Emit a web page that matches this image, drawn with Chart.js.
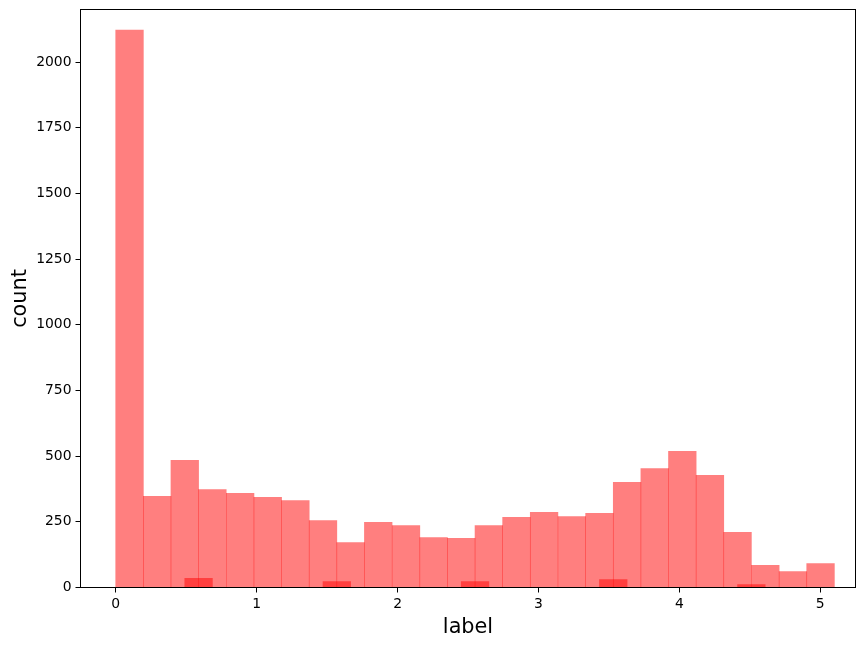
<!DOCTYPE html>
<html lang="en">
<head>
    <meta charset="UTF-8">
    <script src="https://cdn.jsdelivr.net/npm/chart.js"></script>
    <title>label histogram</title>
    <style>
        body {
            margin: 0;
            background: white;
        }
    </style>
</head>
<body>
    <canvas id="histChart" width="865" height="646"></canvas>
    <script>
        // Histogram data
        var mainBinCenters = [0.098, 0.294, 0.490, 0.686, 0.883, 1.079, 1.275, 1.471, 1.667, 1.863,
            2.060, 2.256, 2.452, 2.648, 2.844, 3.040, 3.237, 3.433, 3.629, 3.825,
            4.021, 4.217, 4.413, 4.610, 4.806, 5.002];
        var mainCounts = [2122, 347, 484, 373, 358, 343, 331, 255, 171, 248,
            236, 190, 187, 236, 267, 286, 270, 282, 400, 453,
            518, 427, 210, 84, 61, 91];

        var smallBinCenters = [0.588, 0.785, 0.981, 1.177, 1.373, 1.569, 1.765, 1.961, 2.158, 2.354,
            2.550, 2.746, 2.942, 3.138, 3.334, 3.531, 3.727, 3.923, 4.119, 4.315, 4.511];
        var smallCounts = [35, 0, 0, 0, 0, 23, 0, 0, 0, 0,
            23, 0, 0, 0, 0, 30, 0, 0, 0, 0, 11];

        var xTicks = [0, 1, 2, 3, 4, 5];
        var yTicks = [0, 250, 500, 750, 1000, 1250, 1500, 1750, 2000];

        function toPoints(xs, ys) {
            return xs.map(function (x, i) { return { x: x, y: ys[i] }; });
        }

        // box round the plot like matplotlib spines
        var framePlugin = {
            id: 'frame',
            afterDraw: function (chart) {
                var a = chart.chartArea;
                var ctx = chart.ctx;
                ctx.save();
                ctx.strokeStyle = '#000';
                ctx.lineWidth = 1;
                ctx.strokeRect(a.left, a.top, a.right - a.left, a.bottom - a.top);
                ctx.restore();
            }
        };

        var tickFont = { family: 'DejaVu Sans', size: 13.9 };
        var titleFont = { family: 'DejaVu Sans', size: 20.8 };

        var ctx = document.getElementById('histChart').getContext('2d');
        var histChart = new Chart(ctx, {
            type: 'bar',
            data: {
                datasets: [{
                    label: 'main',
                    data: toPoints(mainBinCenters, mainCounts),
                    backgroundColor: 'rgba(255, 0, 0, 0.5)',
                    borderWidth: 0,
                    barPercentage: 1,
                    categoryPercentage: 1,
                    grouped: false,
                    xAxisID: 'x'
                }, {
                    label: 'small',
                    data: toPoints(smallBinCenters, smallCounts),
                    backgroundColor: 'rgba(255, 0, 0, 0.5)',
                    borderWidth: 0,
                    barPercentage: 1,
                    categoryPercentage: 1,
                    grouped: false,
                    xAxisID: 'x2'
                }]
            },
            options: {
                responsive: false,
                animation: false,
                layout: {
                    padding: { top: 9.5, right: 9.5, left: 0, bottom: 0 }
                },
                plugins: {
                    legend: { display: false },
                    tooltip: { enabled: false }
                },
                scales: {
                    x: {
                        type: 'linear',
                        min: -0.25,
                        max: 5.25,
                        offset: false,
                        border: { display: false },
                        grid: {
                            offset: false,
                            drawOnChartArea: false,
                            drawTicks: true,
                            tickLength: 5,
                            color: '#000'
                        },
                        ticks: {
                            color: '#000',
                            font: tickFont,
                            padding: 4,
                            maxRotation: 0,
                            autoSkip: false,
                            callback: function (v) { return String(v); }
                        },
                        afterBuildTicks: function (axis) {
                            axis.ticks = xTicks.map(function (v) { return { value: v }; });
                        },
                        title: {
                            display: true,
                            text: 'label',
                            color: '#000',
                            font: titleFont,
                            padding: { top: 0, bottom: 6 }
                        },
                        afterFit: function (axis) {
                            axis.height = 58.5;
                            axis.paddingLeft = 0;
                            axis.paddingRight = 0;
                        }
                    },
                    x2: {
                        type: 'linear',
                        min: -0.25,
                        max: 5.25,
                        offset: false,
                        display: false
                    },
                    y: {
                        min: 0,
                        max: 2200,
                        border: { display: false },
                        grid: {
                            drawOnChartArea: false,
                            drawTicks: true,
                            tickLength: 5,
                            color: '#000'
                        },
                        ticks: {
                            color: '#000',
                            font: tickFont,
                            padding: 4,
                            autoSkip: false,
                            callback: function (v) { return String(v); }
                        },
                        afterBuildTicks: function (axis) {
                            axis.ticks = yTicks.map(function (v) { return { value: v }; });
                        },
                        title: {
                            display: true,
                            text: 'count',
                            color: '#000',
                            font: titleFont,
                            padding: { top: 8, bottom: 0 }
                        },
                        afterFit: function (axis) {
                            axis.width = 80.5;
                            axis.paddingTop = 0;
                            axis.paddingBottom = 0;
                        }
                    }
                }
            },
            plugins: [framePlugin]
        });
    </script>
</body>
</html>
